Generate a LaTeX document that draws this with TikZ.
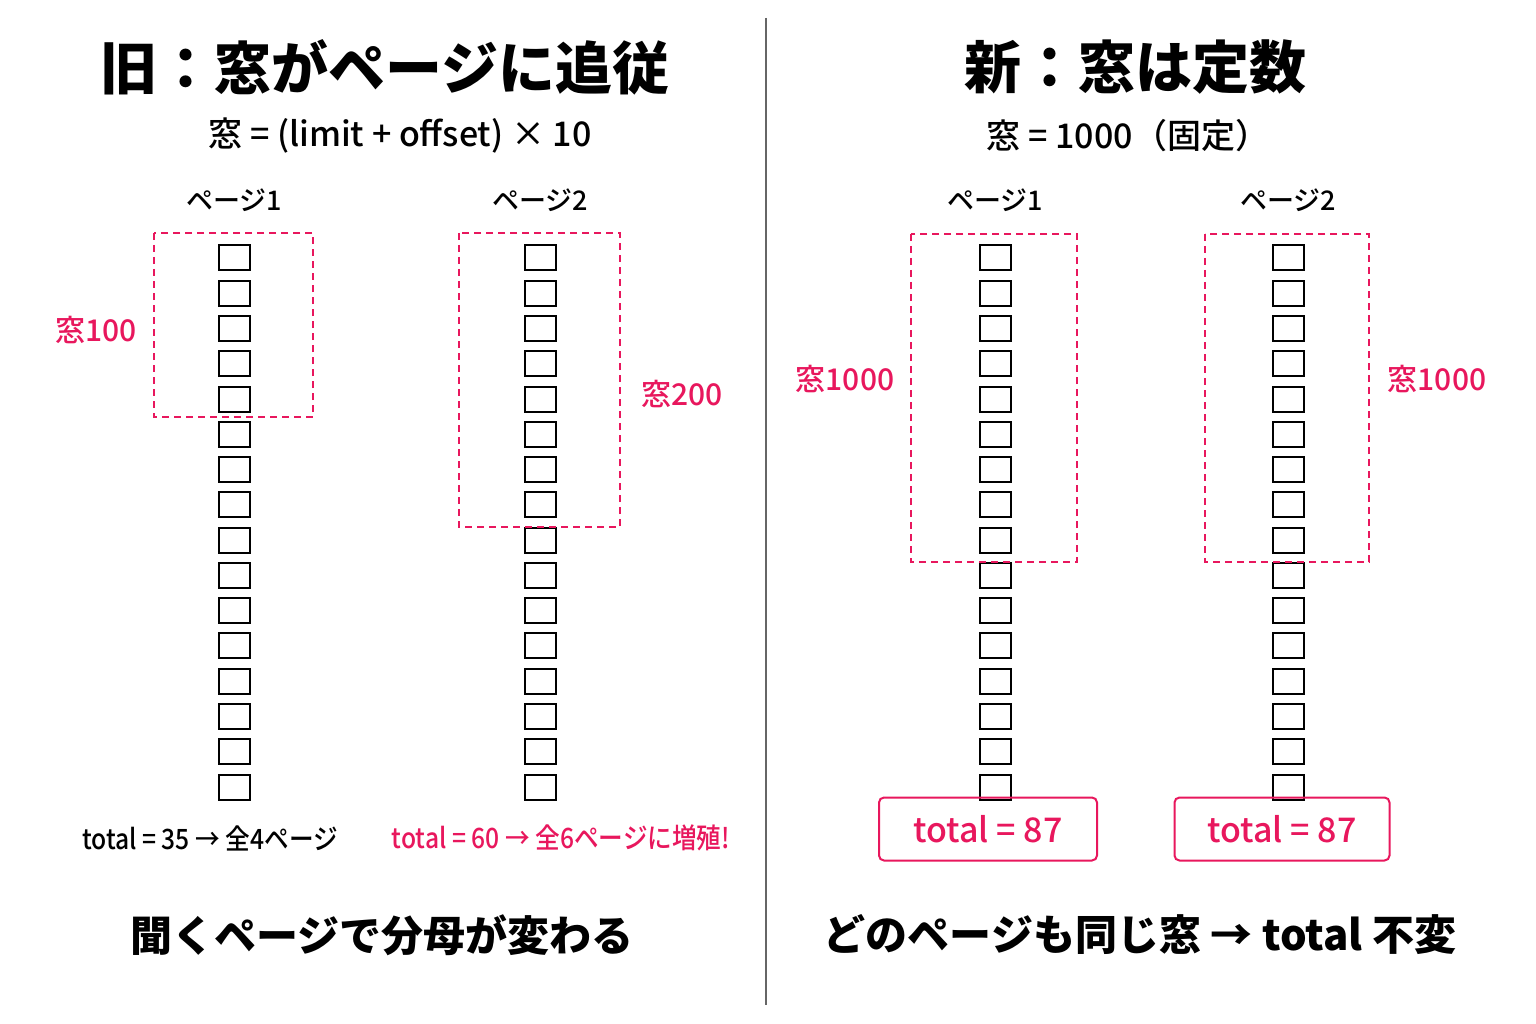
\documentclass[tikz,border=0pt]{standalone}
\usepackage{fontspec}
\setmainfont{Noto Sans CJK JP}
\newfontfamily\jpm{Noto Sans CJK JP Medium}
\definecolor{pk}{HTML}{E8175D}
\begin{document}
\begin{tikzpicture}[x=1pt,y=-1pt,
  sq/.style={draw=black,line width=2pt,minimum width=31pt,minimum height=25pt,inner sep=0},
  win/.style={draw=pk,line width=2.2pt,dash pattern=on 7pt off 5pt},
  wl/.style={text=pk,font=\jpm\fontsize{30}{30}\selectfont},
  ttl/.style={font=\fontsize{57}{57}\selectfont\bfseries},
  fml/.style={font=\jpm\fontsize{34}{34}\selectfont},
  pg/.style={font=\jpm\fontsize{27}{27}\selectfont},
  bot/.style={font=\fontsize{42}{42}\selectfont\bfseries},
  tb/.style={draw=pk,line width=2pt,rounded corners=5pt,text=pk,font=\jpm\fontsize{34}{34}\selectfont,minimum width=218pt,minimum height=63pt}]
\useasboundingbox[fill=white] (0,0) rectangle (1536,1024);
\draw[line width=2pt,gray!80!black] (766,18) coordinate(d1) -- (766,1005) coordinate(d2);
\node[ttl] (t1) at (385,67) {旧：窓がページに追従};
\node[ttl] (t2) at (1135,67) {新：窓は定数};
\node[fml] (f1) at (400,136) {窓 = (limit + offset) × 10};
\node[fml] (f2) at (1128,136) {窓 = 1000（固定）};
\node[pg] (p11) at (234,200) {ページ1};
\node[pg] (p12) at (540,200) {ページ2};
\node[pg] (p21) at (995,200) {ページ1};
\node[pg] (p22) at (1288,200) {ページ2};
\foreach \c/\x in {a/234,b/540,c/995,d/1288}
  \foreach \i in {0,...,15}
    \node[sq] (\c\i) at (\x,{258+35.27*\i}) {};
\draw[win] (154,233) rectangle (313,417);
\draw[win] (459,233) rectangle (620,527);
\draw[win] (911,234) rectangle (1077,562);
\draw[win] (1205,234) rectangle (1369,562);
\node[wl] (w1) at (96,330) {窓100};
\node[wl] (w2) at (682,394) {窓200};
\node[wl] (w3) at (845,379) {窓1000};
\node[wl] (w4) at (1437,379) {窓1000};
\node[font=\jpm\fontsize{28}{28}\selectfont,xscale=0.88] (s1) at (210,838) {total = 35 → 全4ページ};
\node[text=pk,font=\jpm\fontsize{28}{28}\selectfont,xscale=0.88] (s2) at (561,838) {total = 60 → 全6ページに増殖!};
\node[tb] (b1) at (988,829) {total = 87};
\node[tb,minimum width=215pt] (b2) at (1282,829) {total = 87};
\node[bot] (m1) at (382,935) {聞くページで分母が変わる};
\node[bot] (m2) at (1140,935) {どのページも同じ窓 → total 不変};
\end{tikzpicture}
\end{document}
